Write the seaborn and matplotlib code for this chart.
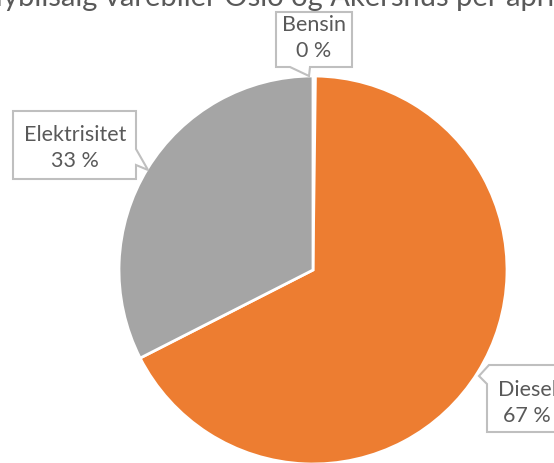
import matplotlib
matplotlib.use("Agg")
import matplotlib.pyplot as plt
import numpy as np
import seaborn as sns
from matplotlib.patches import Polygon

categories = ["Bensin", "Diesel", "Elektrisitet"]
shares = [0.2, 67.3, 32.5]
share_labels = ["0 %", "67 %", "33 %"]
title = "Nybilsalg varebiler Oslo og Akershus per april"

colors = ["#4472C4", "#ED7D31", "#A5A5A5"]
text_color = "#595959"

sns.set_theme(style="white")
plt.rcParams["font.family"] = ["Lato", "DejaVu Sans"]

W, H = 554, 464
fig = plt.figure(figsize=(W / 100, H / 100), dpi=100)
ax = fig.add_axes([0, 0, 1, 1])

# pie drawn in pixel space; y axis is flipped so counterclock=True runs clockwise on screen
cx, cy, r = 313, 271, 194
wedges, _ = ax.pie(
    shares,
    colors=colors,
    startangle=-90,
    counterclock=True,
    center=(cx, cy),
    radius=r,
    frame=True,
    wedgeprops=dict(edgecolor="white", linewidth=2),
)
ax.set_xlim(0, W)
ax.set_ylim(H, 0)
ax.set_axis_off()
ax.set_aspect("equal")

# callout boxes: rectangle plus a small pointer notch
callouts = {
    "Bensin": [(276, 13), (352, 13), (352, 68), (310, 68), (309, 77), (290, 68), (276, 68)],
    "Elektrisitet": [(13, 112), (136, 112), (136, 150), (148, 171), (136, 166), (136, 180), (13, 180)],
    "Diesel": [(489, 366), (562, 366), (562, 433), (487, 433), (487, 385), (479, 377)],
}
text_pos = {"Bensin": (314, 38), "Elektrisitet": (75, 148), "Diesel": (527, 403)}

for cat, lab in zip(categories, share_labels):
    ax.add_patch(Polygon(callouts[cat], closed=True, facecolor="white",
                         edgecolor="#BFBFBF", linewidth=1.5, zorder=5))
    tx, ty = text_pos[cat]
    ax.text(tx, ty, f"{cat}\n{lab}", ha="center", va="center", fontsize=15.5,
            color=text_color, linespacing=1.4, zorder=6)

ax.text(271, 6, title, ha="center", va="baseline", fontsize=21,
        color=text_color, zorder=10)

fig.savefig("out.png", dpi=100)
